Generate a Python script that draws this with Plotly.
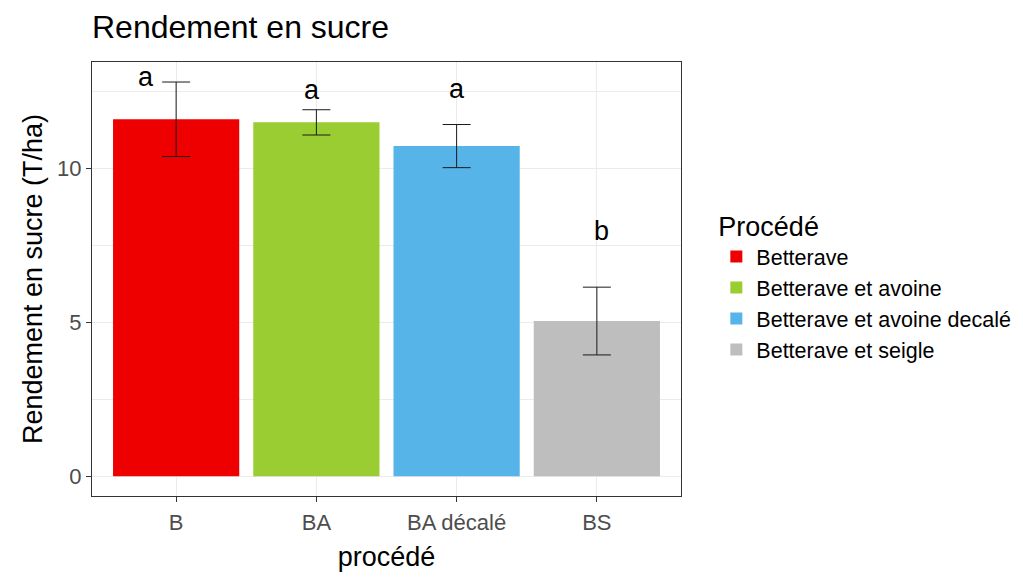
import plotly.graph_objects as go

categories = ["B", "BA", "BA décalé", "BS"]
legend_names = ["Betterave", "Betterave et avoine", "Betterave et avoine decalé", "Betterave et seigle"]
yield_mean = [11.59, 11.49, 10.72, 5.04]
yield_sd = [1.21, 0.41, 0.70, 1.10]
letters = ["a", "a", "a", "b"]
letter_y = [12.95, 12.55, 12.58, 7.95]

colors = ["#EE0000", "#9ACD32", "#56B4E9", "#BEBEBE"]
letter_xshift = [-30, -4, 0, 5]

FONT = "Liberation Sans, Arial, sans-serif"
OFF = 8  # page body margin
W, H = 1023 - OFF, 577 - OFF

fig = go.Figure()
for i, cat in enumerate(categories):
    fig.add_trace(go.Bar(
        x=[cat], y=[yield_mean[i]], name=legend_names[i],
        marker=dict(color=colors[i], line=dict(width=0)),
        width=0.9,
        error_y=dict(type="data", array=[yield_sd[i]], visible=True,
                     color="#1a1a1a", thickness=1, width=14),
    ))

for i, cat in enumerate(categories):
    fig.add_annotation(x=cat, y=letter_y[i], text=letters[i], showarrow=False,
                       xshift=letter_xshift[i], yanchor="middle",
                       font=dict(family=FONT, size=27, color="black"))

fig.update_layout(
    width=W, height=H,
    margin=dict(l=92 - OFF, r=1023 - 681, t=62 - OFF, b=577 - 496, autoexpand=False),
    paper_bgcolor="white", plot_bgcolor="white",
    barmode="overlay",
    font=dict(family=FONT, color="black"),
    title=dict(text="Rendement en sucre", x=(92 - OFF) / W, xanchor="left", xref="container",
               y=1 - (27 - OFF) / H, yanchor="middle", yref="container",
               font=dict(family=FONT, size=32, color="black")),
    legend=dict(title=dict(text="Procédé", font=dict(family=FONT, size=27)),
                font=dict(family=FONT, size=21.5, color="black"),
                x=1.06, xanchor="left", y=0.485, yanchor="middle",
                bgcolor="rgba(0,0,0,0)", borderwidth=0, tracegroupgap=0),
    showlegend=True,
)
fig.update_xaxes(
    type="category", range=[-0.6, 3.6], automargin=False,
    showgrid=True, gridcolor="#EBEBEB", gridwidth=1.1,
    showline=True, mirror=True, linecolor="#333333", linewidth=1,
    ticks="outside", ticklen=5, tickcolor="#333333", tickwidth=1.1,
    tickfont=dict(family=FONT, size=22, color="#4D4D4D"), ticklabelstandoff=2,
    title=dict(text="procédé", font=dict(family=FONT, size=27, color="black"), standoff=12),
    zeroline=False,
)
fig.update_yaxes(
    range=[-0.64, 13.45], tickvals=[0, 5, 10], automargin=False,
    showgrid=True, gridcolor="#EBEBEB", gridwidth=1.1,
    minor=dict(tickvals=[2.5, 7.5, 12.5], showgrid=True, gridcolor="#EBEBEB", gridwidth=0.6, ticks=""),
    showline=True, mirror=True, linecolor="#333333", linewidth=1,
    ticks="outside", ticklen=5, tickcolor="#333333", tickwidth=1.1,
    tickfont=dict(family=FONT, size=22, color="#4D4D4D"),
    title=dict(text="Rendement en sucre (T/ha)", font=dict(family=FONT, size=27, color="black"), standoff=6),
    zeroline=False,
)

fig.write_html("out.html")
